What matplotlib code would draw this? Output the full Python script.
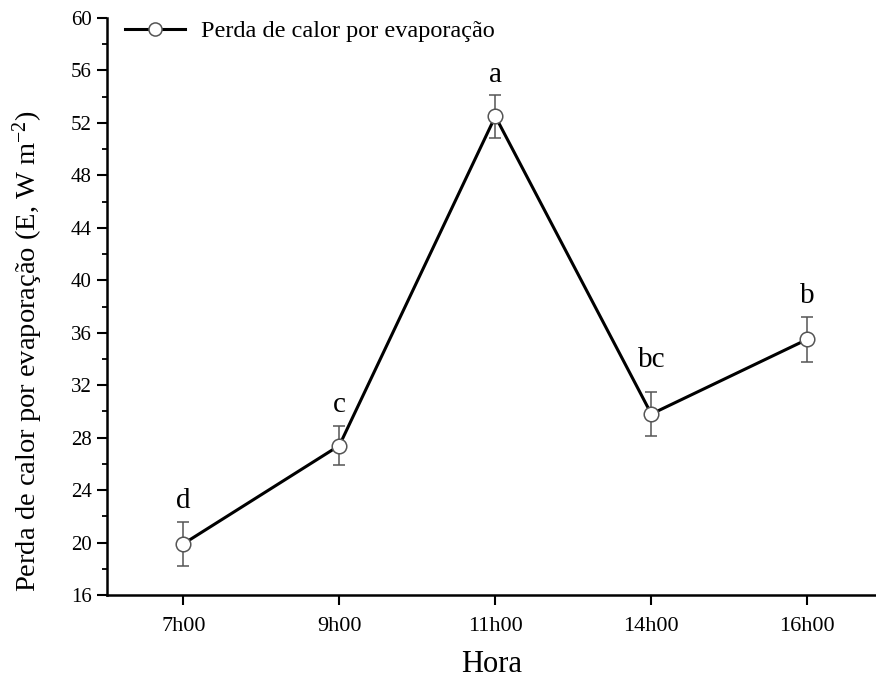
import matplotlib
matplotlib.use("Agg")
import matplotlib.pyplot as plt
from matplotlib.ticker import MultipleLocator

horas = ["7h00", "9h00", "11h00", "14h00", "16h00"]
evaporacao = [19.9, 27.4, 52.5, 29.8, 35.5]
erro = [1.65, 1.5, 1.65, 1.7, 1.7]
letras = ["d", "c", "a", "bc", "b"]

plt.rcParams["font.family"] = ["Liberation Serif", "DejaVu Serif"]
plt.rcParams["mathtext.fontset"] = "custom"
plt.rcParams["mathtext.rm"] = "Liberation Serif"

fig = plt.figure(figsize=(8.76, 6.79), dpi=100)
ax = fig.add_axes([0.122, 0.1237, 0.878, 0.8498])

x = list(range(len(horas)))
ax.errorbar(x, evaporacao, yerr=erro, fmt="none", ecolor="#555555",
            elinewidth=1.1, capsize=4.5, capthick=1.1, zorder=2)
ax.plot(x, evaporacao, color="black", lw=2.2, marker="o", ms=10.5,
        mfc="white", mec="#555555", mew=1.1, zorder=3,
        label="Perda de calor por evaporação")

# distancia (pt) entre o topo da barra de erro e a letra
desloc = [10, 10, 9, 18, 10]
for xi, yi, ei, lt, d in zip(x, evaporacao, erro, letras, desloc):
    ax.annotate(lt, (xi, yi + ei), xytext=(0, d), textcoords="offset points",
                ha="center", va="baseline", fontsize=21)

ax.set_xlim(-0.49, 4.44)
ax.set_ylim(16, 60)
ax.set_xticks(x)
ax.set_xticklabels(horas)
ax.yaxis.set_major_locator(MultipleLocator(4))
ax.yaxis.set_minor_locator(MultipleLocator(2))

ax.spines["top"].set_visible(False)
ax.spines["right"].set_visible(False)
ax.spines["left"].set_linewidth(1.8)
ax.spines["bottom"].set_linewidth(1.8)

ax.tick_params(axis="both", which="major", direction="out", length=7, width=1.5,
               labelsize=15)
ax.tick_params(axis="x", which="major", pad=9, labelsize=16)
ax.tick_params(axis="y", which="major", pad=4)
ax.tick_params(axis="y", which="minor", direction="out", length=3.5, width=1.3)

ax.set_xlabel("Hora", fontsize=22, labelpad=10)
ax.set_ylabel("Perda de calor por evaporação (E, W m$\\mathregular{^{-2}}$)",
              fontsize=20.5)
ax.yaxis.set_label_coords(-0.080, 0.423)

ax.legend(loc="upper left", frameon=False, fontsize=17.5, handlelength=2.5,
          handletextpad=0.65, borderpad=0.1, borderaxespad=0,
          bbox_to_anchor=(0.02, 1.0), markerscale=0.9)

fig.savefig("out.png", dpi=100)
